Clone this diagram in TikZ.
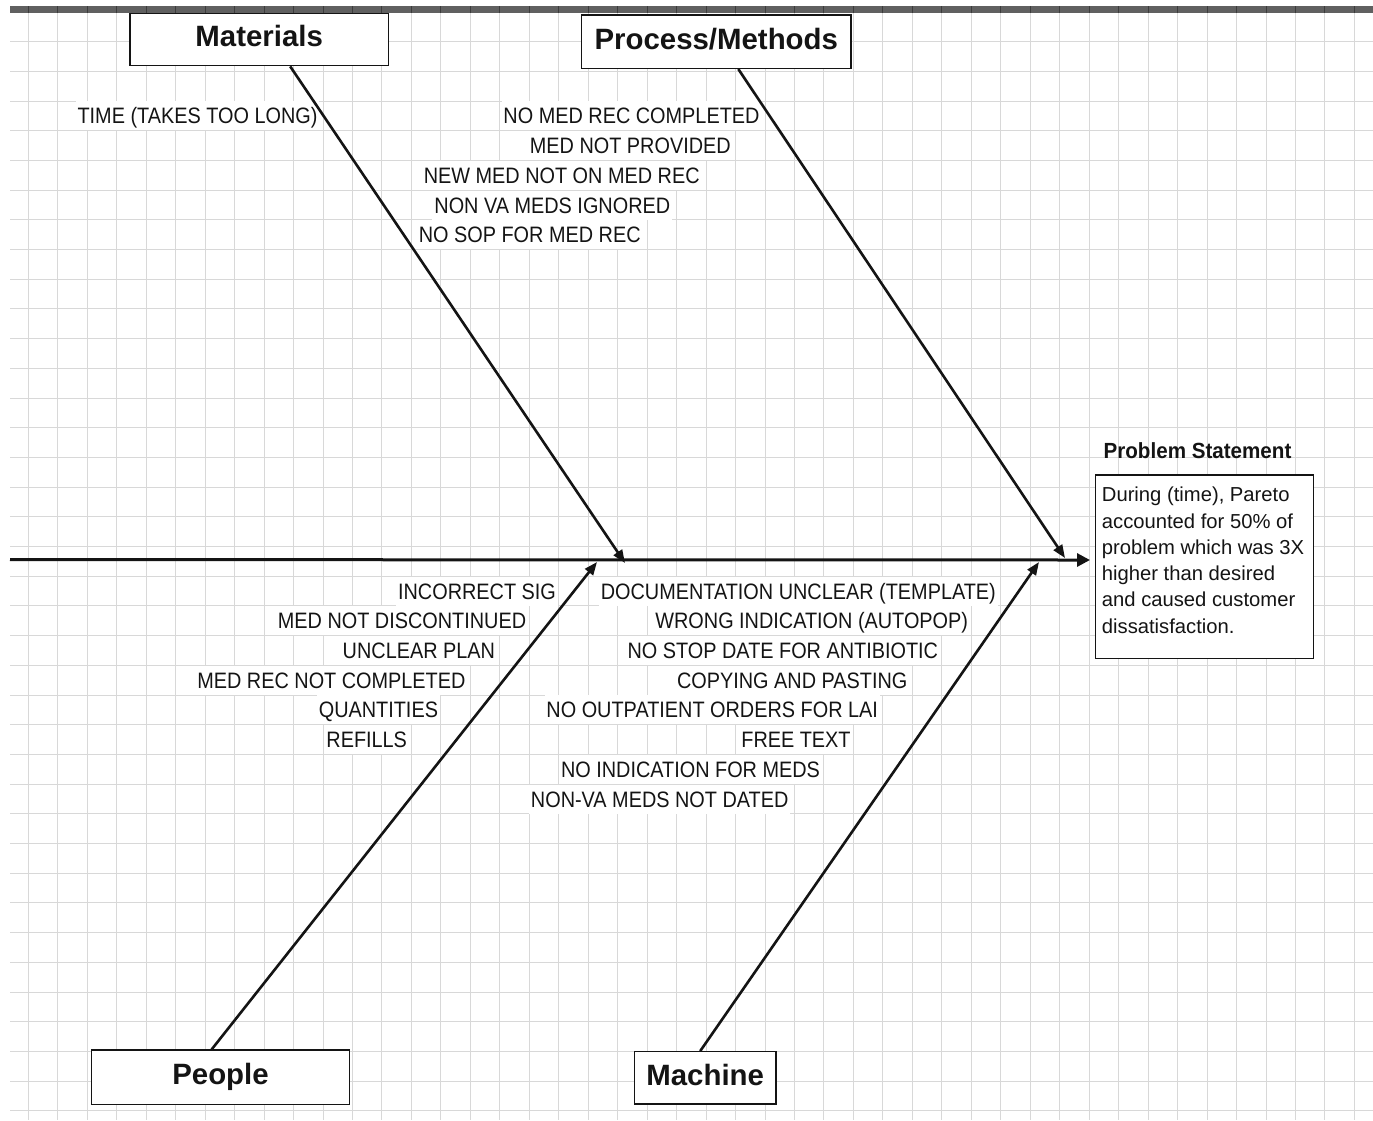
\documentclass[tikz,border=0pt]{standalone}
\usepackage{fontspec}
\setmainfont{Liberation Sans}
\newfontfamily\condfont[FakeStretch=0.89]{Liberation Sans}
\newfontfamily\headfont[FakeStretch=0.94]{Liberation Sans}
\usetikzlibrary{arrows.meta}

\definecolor{gridgray}{RGB}{216,216,216}
\definecolor{bargray}{RGB}{96,96,96}
\definecolor{tickgray}{RGB}{60,60,60}
\definecolor{ink}{RGB}{20,20,20}

\tikzset{
  gridline/.style={draw=gridgray, line width=1.5bp},
  causebox/.style={draw=ink, line width=1.4bp, fill=white, inner sep=0pt,
    font=\bfseries\fontsize{29.5}{34}\selectfont, text=ink,
    text height=21pt, text depth=6pt},
  cause/.style={fill=white, inner xsep=2pt, inner ysep=0pt, minimum height=29bp,
    text height=16pt, text depth=0pt, text=ink,
    font=\condfont\fontsize{22.4}{26}\selectfont},
  pstitle/.style={inner sep=0pt, text height=15.7pt, text depth=0pt, text=ink,
    font=\headfont\bfseries\fontsize{22}{26}\selectfont},
  psbox/.style={draw=ink, line width=1.4bp, fill=white, inner sep=0pt},
  psline/.style={anchor=base west, inner sep=0pt, text=ink,
    font=\fontsize{20.3}{26.3}\selectfont},
  bone/.style={draw=ink, line width=2.6bp, -{Triangle[length=13bp,width=10bp]}},
  spine/.style={draw=ink, line width=3bp, -{Triangle[length=13bp,width=13bp]}},
}

\begin{document}
\begin{tikzpicture}[x=1bp, y=-1bp]
\useasboundingbox (0,0) rectangle (1373,1120);
\fill[white] (0,0) rectangle (1373,1120);

% worksheet grid and header bar
\foreach \k in {0,...,45}
  \draw[gridline] ({floor(28.3+29.47*\k)+0.5},12) -- ({floor(28.3+29.47*\k)+0.5},1120);
\foreach \k in {0,...,36}
  \draw[gridline] (10,{floor(41.7+29.7*\k)+0.5}) -- (1373,{floor(41.7+29.7*\k)+0.5});
\fill[bargray] (10,6) rectangle (1373,12.5);
\foreach \k in {0,...,45}
  \draw[tickgray, line width=1bp] ({floor(28.3+29.47*\k)+0.5},6) -- ({floor(28.3+29.47*\k)+0.5},12.5);

% category boxes
\node[causebox, minimum width=258.3bp, minimum height=52.4bp] (mat) at (259.2,39.5) {Materials};
\node[causebox, minimum width=269.3bp, minimum height=53.3bp] (proc) at (716.3,41.7) {Process/Methods};
\node[causebox, minimum width=257.6bp, minimum height=54.3bp] (ppl) at (220.5,1077.2) {People};
\node[causebox, minimum width=141.7bp, minimum height=52.3bp] (mach) at (705.2,1077.9) {Machine};

% causes: materials and process/methods
\node[cause] (c1) at (197.5,115.95) {TIME (TAKES TOO LONG)};
\node[cause] (c2) at (631.5,115.95) {NO MED REC COMPLETED};
\node[cause] (c3) at (630.3,145.65) {MED NOT PROVIDED};
\node[cause] (c4) at (561.7,175.35) {NEW MED NOT ON MED REC};
\node[cause] (c5) at (552.3,205.05) {NON VA MEDS IGNORED};
\node[cause] (c6) at (529.7,234.75) {NO SOP FOR MED REC};

% causes: people
\node[cause] (c7) at (477,591.15) {INCORRECT SIG};
\node[cause] (c8) at (402,620.85) {MED NOT DISCONTINUED};
\node[cause] (c9) at (418.9,650.55) {UNCLEAR PLAN};
\node[cause] (c10) at (331.4,680.25) {MED REC NOT COMPLETED};
\node[cause] (c11) at (378.4,709.95) {QUANTITIES};
\node[cause] (c12) at (366.7,739.65) {REFILLS};

% causes: machine
\node[cause] (c13) at (798.3,591.15) {DOCUMENTATION UNCLEAR (TEMPLATE)};
\node[cause] (c14) at (811.7,620.85) {WRONG INDICATION (AUTOPOP)};
\node[cause] (c15) at (782.8,650.55) {NO STOP DATE FOR ANTIBIOTIC};
\node[cause] (c16) at (792.2,680.25) {COPYING AND PASTING};
\node[cause] (c17) at (712.2,709.95) {NO OUTPATIENT ORDERS FOR LAI};
\node[cause] (c18) at (796,739.65) {FREE TEXT};
\node[cause] (c19) at (690.5,769.35) {NO INDICATION FOR MEDS};
\node[cause] (c20) at (659.7,799.05) {NON-VA MEDS NOT DATED};

% problem statement
\node[pstitle] (pst) at (1197.5,450.5) {Problem Statement};
\node[psbox, minimum width=217.6bp, minimum height=183.3bp] (psb) at (1204.5,566.7) {};
\node[psline] (ps1) at (1101.7,501.7) {During (time), Pareto};
\node[psline] (ps2) at (1101.7,528.0) {accounted for 50\% of};
\node[psline] (ps3) at (1101.7,554.3) {problem which was 3X};
\node[psline] (ps4) at (1101.7,580.6) {higher than desired};
\node[psline] (ps5) at (1101.7,606.9) {and caused customer};
\node[psline] (ps6) at (1101.7,633.2) {dissatisfaction.};

% spine and bones
\coordinate (tail) at (10,559.6);
\coordinate (head) at (1090,560);
\coordinate (tmat) at (625,563);
\coordinate (tproc) at (1065,558);
\coordinate (tppl) at (597,562);
\coordinate (tmach) at (1039,562);

\draw[spine] (tail) -- (head);
\draw[bone] ([xshift=31bp]mat.south) -- (tmat);
\draw[bone] ([xshift=22bp]proc.south) -- (tproc);
\draw[bone] ([xshift=-8.8bp]ppl.north) -- (tppl);
\draw[bone] ([xshift=-5bp]mach.north) -- (tmach);
\end{tikzpicture}
\end{document}
